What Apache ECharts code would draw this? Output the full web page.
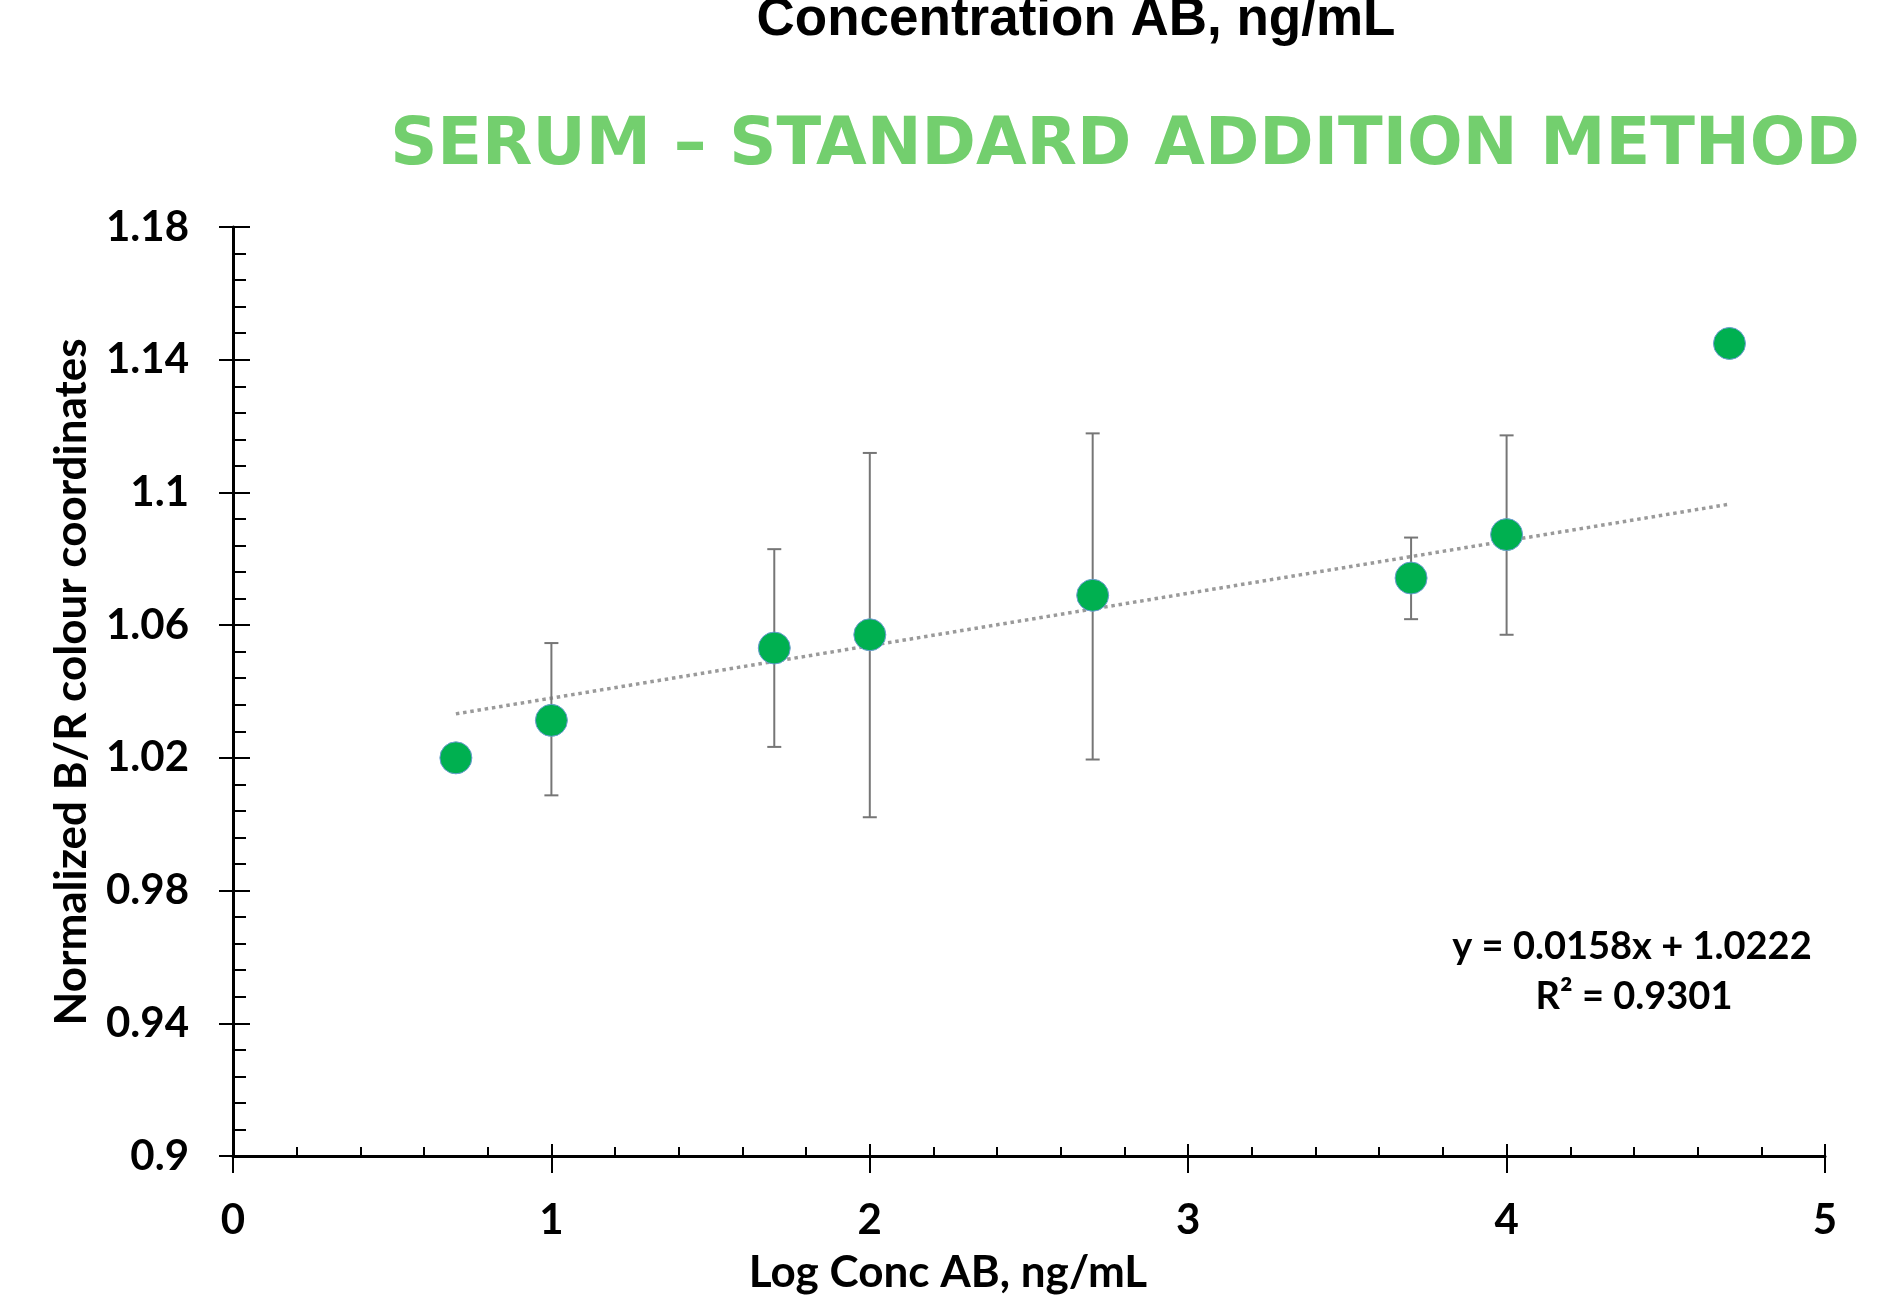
<!DOCTYPE html>
<html><head><meta charset="utf-8">
<script src="https://cdn.jsdelivr.net/npm/echarts@6/dist/echarts.min.js"></script>
<style>html,body{margin:0;padding:0;background:#fff}#c{width:1882px;height:1304px}</style>
</head><body><div id="c"></div>
<script>
// ---- data ----
const xVals   = [0.7, 1, 1.7, 2, 2.7, 3.7, 4, 4.7];
const yVals   = [1.020, 1.0313, 1.0531, 1.0571, 1.0690, 1.0742, 1.0873, 1.1449];
const errLow  = [null, 1.0087, 1.0233, 1.0021, 1.0195, 1.0618, 1.0571, null];
const errHigh = [null, 1.0546, 1.0829, 1.1119, 1.1178, 1.0864, 1.1172, null];
const trendSlope = 0.0158, trendIntercept = 1.0222, trendR2 = 0.9301;
const yTicks = [0.9, 0.94, 0.98, 1.02, 1.06, 1.1, 1.14, 1.18];
const chartTitle = 'Concentration AB, ng/mL';
const chartSubtitle = 'SERUM – STANDARD ADDITION METHOD';
const xAxisName = 'Log Conc AB, ng/mL';
const yAxisName = 'Normalized B/R colour coordinates';

// ---- derived ----
const yMinorTicks = [];
for (let i = 0; i < yTicks.length - 1; i++) {
  const step = (yTicks[i + 1] - yTicks[i]) / 5;
  for (let k = 1; k < 5; k++) yMinorTicks.push(+(yTicks[i] + k * step).toFixed(4));
}
const points = xVals.map((x, i) => [x, yVals[i]]);
const errData = [];
xVals.forEach((x, i) => { if (errLow[i] != null) errData.push([x, errLow[i], errHigh[i]]); });
const tx0 = xVals[0], tx1 = xVals[xVals.length - 1];
const trendData = [[tx0, trendSlope * tx0 + trendIntercept], [tx1, trendSlope * tx1 + trendIntercept]];

const FONT = 'Lato, "Open Sans", sans-serif';
const yMin = yTicks[0], yMax = yTicks[yTicks.length - 1];
const black = '#000';

const chart = echarts.init(document.getElementById('c'), null, {renderer: 'canvas'});
chart.setOption({
  animation: false,
  backgroundColor: '#fff',
  grid: {left: 233, right: 57, top: 227, bottom: 148, containLabel: false, outerBoundsMode: 'none'},
  xAxis: [
    {type: 'value', min: 0, max: 5, interval: 1, position: 'bottom',
     axisLine: {show: true, lineStyle: {color: black, width: 3}},
     axisTick: {show: true, inside: false, length: 17, lineStyle: {color: black, width: 2}},
     minorTick: {show: false},
     axisLabel: {show: true, margin: 43, fontSize: 42, fontWeight: 'bold', fontFamily: FONT, color: black},
     splitLine: {show: false}},
    {type: 'value', min: 0, max: 5, interval: 1, position: 'bottom',
     axisLine: {show: false},
     axisTick: {show: true, inside: true, length: 12, lineStyle: {color: black, width: 2}},
     minorTick: {show: true, splitNumber: 5, length: 9, lineStyle: {color: black, width: 2}},
     axisLabel: {show: false}, splitLine: {show: false}, minorSplitLine: {show: false}}
  ],
  yAxis: [
    {type: 'value', min: yMin, max: yMax, position: 'left',
     axisLine: {show: true, lineStyle: {color: black, width: 3}},
     axisTick: {show: true, inside: false, length: 14, customValues: yTicks, lineStyle: {color: black, width: 2}},
     axisLabel: {show: true, customValues: yTicks, formatter: v => String(+v.toFixed(4)), margin: 44,
                 fontSize: 42, fontWeight: 'bold', fontFamily: FONT, color: black},
     splitLine: {show: false}},
    {type: 'value', min: yMin, max: yMax, position: 'left',
     axisLine: {show: false},
     axisTick: {show: true, inside: true, length: 17, customValues: yTicks, lineStyle: {color: black, width: 2}},
     axisLabel: {show: false}, splitLine: {show: false}},
    {type: 'value', min: yMin, max: yMax, position: 'left',
     axisLine: {show: false},
     axisTick: {show: true, inside: true, length: 13, customValues: yMinorTicks, lineStyle: {color: black, width: 2}},
     axisLabel: {show: false}, splitLine: {show: false}}
  ],
  graphic: [
    {type: 'text', x: 1076, y: 20, z: 10, style: {text: chartTitle, align: 'center', verticalAlign: 'middle',
      font: 'bold 53px "Liberation Sans", Arial, sans-serif', fill: black}},
    {type: 'text', x: 1125, y: 147, z: 10, style: {text: chartSubtitle, align: 'center', verticalAlign: 'middle',
      font: 'bold 65.5px "DejaVu Sans", Verdana, sans-serif', fill: '#73CF6E'}},
    {type: 'text', x: 948, y: 1273, z: 10, style: {text: xAxisName, align: 'center', verticalAlign: 'middle',
      font: 'bold 44px ' + FONT, fill: black}},
    {type: 'text', x: 72, y: 682, rotation: Math.PI / 2, z: 10, style: {text: yAxisName, align: 'center', verticalAlign: 'middle',
      font: 'bold 44px ' + FONT, fill: black}},
    {type: 'text', x: 1632, y: 947, z: 10, style: {text: 'y = ' + trendSlope + 'x + ' + trendIntercept, align: 'center', verticalAlign: 'middle',
      font: 'bold 38px ' + FONT, fill: black}},
    {type: 'text', x: 1634, y: 997, z: 10, style: {text: 'R² = ' + trendR2, align: 'center', verticalAlign: 'middle',
      font: 'bold 38px ' + FONT, fill: black}}
  ],
  series: [
    {type: 'line', name: 'trend', data: trendData, xAxisIndex: 0, yAxisIndex: 0, showSymbol: false, symbol: 'none',
     lineStyle: {color: '#9a9a9a', width: 3.5, type: [3.5, 3.8], cap: 'butt'}, z: 2, silent: true},
    {type: 'custom', name: 'error', data: errData, xAxisIndex: 0, yAxisIndex: 0, z: 3, silent: true,
     renderItem: function (params, api) {
       const x = api.value(0);
       const lo = api.coord([x, api.value(1)]);
       const hi = api.coord([x, api.value(2)]);
       const w = 7;
       const st = {stroke: '#767676', lineWidth: 2};
       return {type: 'group', children: [
         {type: 'line', shape: {x1: lo[0], y1: lo[1], x2: hi[0], y2: hi[1]}, style: st},
         {type: 'line', shape: {x1: lo[0] - w, y1: lo[1], x2: lo[0] + w, y2: lo[1]}, style: st},
         {type: 'line', shape: {x1: hi[0] - w, y1: hi[1], x2: hi[0] + w, y2: hi[1]}, style: st}
       ]};
     }},
    {type: 'scatter', name: 'data', data: points, xAxisIndex: 0, yAxisIndex: 0, symbol: 'circle', symbolSize: 32, z: 4,
     itemStyle: {color: '#00B050', borderColor: '#6C9BD2', borderWidth: 1, opacity: 1}}
  ]
});
</script>
</body></html>
